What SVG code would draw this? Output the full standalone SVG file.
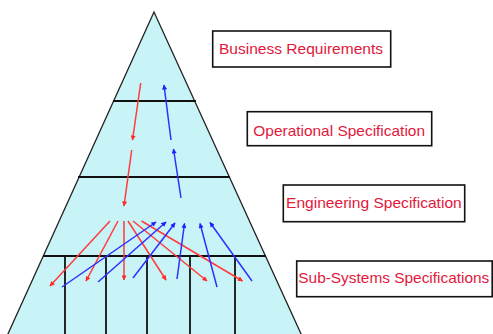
<svg xmlns="http://www.w3.org/2000/svg" width="493" height="334" viewBox="0 0 493 334">
<style>
.tri{fill:#c9f4f7;stroke:#222;stroke-width:1.3}
.div{stroke:#111;stroke-width:1.8;fill:none}
.box{fill:#fff;stroke:#111;stroke-width:1.6}
.lbl{font-family:"Liberation Sans",Arial,sans-serif;font-size:15px;fill:#e3173c}
.r{stroke:#ff3b3b;stroke-width:1.5;fill:none;marker-end:url(#ar)}
.b{stroke:#2f2fff;stroke-width:1.5;fill:none;marker-end:url(#ab)}
</style>
<defs>
<marker id="ar" viewBox="0 0 10 10" refX="9" refY="5" markerWidth="6" markerHeight="5" markerUnits="userSpaceOnUse" orient="auto"><path d="M0,0L10,5L0,10z" fill="#ff2a2a"/></marker>
<marker id="ab" viewBox="0 0 10 10" refX="9" refY="5" markerWidth="6" markerHeight="5" markerUnits="userSpaceOnUse" orient="auto"><path d="M0,0L10,5L0,10z" fill="#2020ff"/></marker>
</defs>
<rect width="493" height="334" fill="#fff"/>
<g id="pyramid">
<polygon class="tri" points="154,12 7,336 302,336"/>
<line class="div" x1="113" y1="101" x2="196" y2="101"/>
<line class="div" x1="78" y1="177" x2="230" y2="177"/>
<line class="div" x1="43" y1="256" x2="266" y2="256"/>
<line class="div" x1="65" y1="256" x2="65" y2="334"/>
<line class="div" x1="106" y1="256" x2="106" y2="334"/>
<line class="div" x1="147" y1="256" x2="147" y2="334"/>
<line class="div" x1="190" y1="256" x2="190" y2="334"/>
<line class="div" x1="235" y1="256" x2="235" y2="334"/>
</g>
<g id="connectors">
<line class="r" x1="140.7" y1="83" x2="132.5" y2="140"/>
<line class="r" x1="131.7" y1="150" x2="124" y2="206"/>
<line class="b" x1="171" y1="140" x2="164" y2="85"/>
<line class="b" x1="181" y1="198" x2="173.5" y2="149"/>
<line class="r" x1="110" y1="221" x2="50" y2="286"/>
<line class="r" x1="118" y1="221" x2="86" y2="281"/>
<line class="r" x1="124" y1="221" x2="124" y2="280"/>
<line class="r" x1="128" y1="221" x2="166" y2="280"/>
<line class="r" x1="133" y1="221" x2="207" y2="281"/>
<line class="r" x1="141.5" y1="221" x2="242.5" y2="281"/>
<line class="b" x1="62" y1="287" x2="156" y2="222"/>
<line class="b" x1="98" y1="282" x2="166" y2="222"/>
<line class="b" x1="133" y1="278" x2="175" y2="223"/>
<line class="b" x1="177" y1="279" x2="184.5" y2="223.5"/>
<line class="b" x1="217" y1="287" x2="200" y2="223.5"/>
<line class="b" x1="252" y1="281" x2="210" y2="222.5"/>
</g>
<g id="business">
<rect class="box" x="212.7" y="31" width="178" height="36"/>
<text class="lbl" x="219" y="54" textLength="164" lengthAdjust="spacingAndGlyphs">Business Requirements</text>
</g>
<g id="operational">
<rect class="box" x="247.3" y="111.7" width="184.4" height="34"/>
<text class="lbl" x="253.3" y="135.5" textLength="171.7" lengthAdjust="spacingAndGlyphs">Operational Specification</text>
</g>
<g id="engineering">
<rect class="box" x="283.3" y="185" width="181.4" height="36.7"/>
<text class="lbl" x="286" y="207.5" textLength="175.7" lengthAdjust="spacingAndGlyphs">Engineering Specification</text>
</g>
<g id="subsystems">
<rect class="box" x="296.7" y="261" width="195.5" height="35.7"/>
<text class="lbl" x="298.3" y="283" textLength="191" lengthAdjust="spacingAndGlyphs">Sub-Systems Specifications</text>
</g>
</svg>
